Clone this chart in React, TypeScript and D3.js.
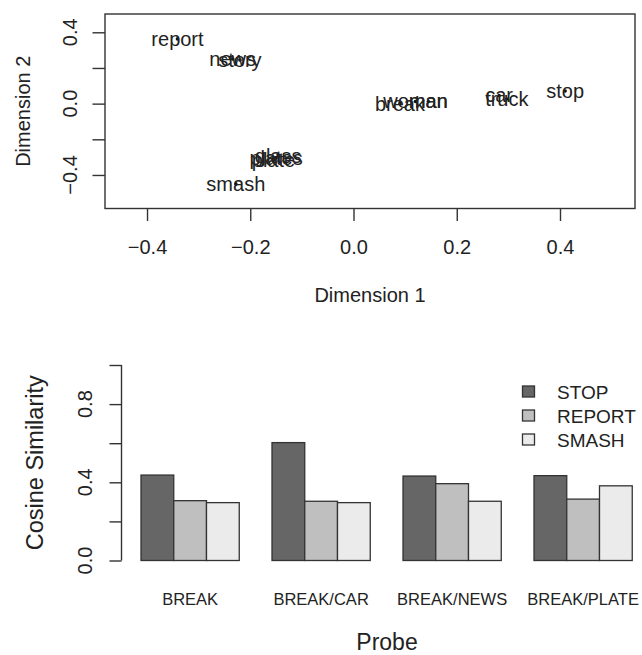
import { useEffect, useRef } from "react";
import * as d3 from "d3";

// MDS plot: words and their coordinates
const words = ["report", "news", "story", "smash", "plate", "plates", "glass", "break", "woman", "man", "car", "truck", "stop"];
const dim1 = [-0.341, -0.234, -0.22, -0.228, -0.155, -0.15, -0.146, 0.09, 0.12, 0.145, 0.282, 0.297, 0.41];
const dim2 = [0.363, 0.25, 0.245, -0.45, -0.315, -0.305, -0.295, 0.0, 0.012, 0.012, 0.046, 0.026, 0.071];
const dimTicks = [-0.4, -0.2, 0, 0.2, 0.4];
const dimYLabels = [-0.4, 0, 0.4];

// bar plot
const probes = ["BREAK", "BREAK/CAR", "BREAK/NEWS", "BREAK/PLATE"];
const seriesNames = ["STOP", "REPORT", "SMASH"];
const stopVals = [0.437, 0.603, 0.432, 0.434];
const reportVals = [0.306, 0.303, 0.393, 0.314];
const smashVals = [0.296, 0.296, 0.303, 0.382];
const simTicks = [0, 0.2, 0.4, 0.6, 0.8, 1.0];
const simLabels = [0, 0.4, 0.8];

const FONT = "'Liberation Sans', Arial, Helvetica, sans-serif";
const INK = "#222";
const LINE = "#333";
const fills = ["#666666", "#bfbfbf", "#ebebeb"];

const App = () => {
  const svgRef = useRef(null);

  useEffect(() => {
    const svg = d3.select(svgRef.current);
    svg.selectAll("*").remove();
    const fmt = d3.format(".1f");

    // ---------- top panel ----------
    const box = { left: 105, right: 635, top: 14, bottom: 208.5 };
    const x = d3.scaleLinear().domain([-0.4814, 0.5453]).range([box.left, box.right]);
    const y = d3.scaleLinear().domain([-0.588, 0.5026]).range([box.bottom, box.top]);

    const top = svg.append("g").attr("font-family", FONT).attr("fill", INK);

    top
      .append("rect")
      .attr("x", box.left)
      .attr("y", box.top)
      .attr("width", box.right - box.left)
      .attr("height", box.bottom - box.top)
      .attr("fill", "none")
      .attr("stroke", LINE)
      .attr("stroke-width", 1.4);

    // x axis
    const xa = top
      .append("g")
      .attr("transform", `translate(0,${box.bottom})`)
      .call(d3.axisBottom(x).tickValues(dimTicks).tickSize(12.5).tickPadding(19).tickFormat(fmt));
    xa.select(".domain").remove();
    xa.selectAll("line").attr("stroke", LINE).attr("stroke-width", 1.4);
    xa.selectAll("text").attr("font-size", 20).attr("fill", INK).attr("font-family", FONT);

    // y axis
    const ya = top
      .append("g")
      .attr("transform", `translate(${box.left},0)`)
      .call(d3.axisLeft(y).tickValues(dimTicks).tickSize(12.5).tickFormat(() => ""));
    ya.select(".domain").remove();
    ya.selectAll("line").attr("stroke", LINE).attr("stroke-width", 1.4);

    top
      .selectAll("text.ylab")
      .data(dimYLabels)
      .enter()
      .append("text")
      .attr("class", "ylab")
      .attr("transform", (d) => `translate(77,${y(d)}) rotate(-90)`)
      .attr("text-anchor", "middle")
      .attr("font-size", 20)
      .text((d) => fmt(d));

    // points + labels
    const pts = words.map((w, i) => ({ w, a: dim1[i], b: dim2[i] }));
    top
      .selectAll("circle")
      .data(pts)
      .enter()
      .append("circle")
      .attr("cx", (d) => x(d.a))
      .attr("cy", (d) => y(d.b))
      .attr("r", 1.8)
      .attr("fill", "#111");
    top
      .selectAll("text.word")
      .data(pts)
      .enter()
      .append("text")
      .attr("class", "word")
      .attr("x", (d) => x(d.a))
      .attr("y", (d) => y(d.b))
      .attr("dy", "0.35em")
      .attr("text-anchor", "middle")
      .attr("font-size", 20)
      .text((d) => d.w);

    top
      .append("text")
      .attr("x", (box.left + box.right) / 2)
      .attr("y", 302)
      .attr("text-anchor", "middle")
      .attr("font-size", 20)
      .text("Dimension 1");
    top
      .append("text")
      .attr("transform", `translate(29.5,${(box.top + box.bottom) / 2}) rotate(-90)`)
      .attr("text-anchor", "middle")
      .attr("font-size", 20)
      .text("Dimension 2");

    // ---------- bottom panel ----------
    const bot = svg.append("g").attr("font-family", FONT).attr("fill", INK);
    const axisX = 121.5;
    const ys = d3.scaleLinear().domain([0, 1]).range([560.5, 365]);
    const x0 = d3.scaleBand().domain(probes).range([141, 632.25]).paddingInner(0.25).paddingOuter(0);
    const x1 = d3.scaleBand().domain(seriesNames).range([0, x0.bandwidth()]).padding(0);
    const vals = [stopVals, reportVals, smashVals];

    const groups = bot
      .selectAll("g.grp")
      .data(probes)
      .enter()
      .append("g")
      .attr("class", "grp")
      .attr("transform", (d) => `translate(${x0(d)},0)`);

    groups
      .selectAll("rect")
      .data((p, i) => seriesNames.map((s, j) => ({ s, j, v: vals[j][i] })))
      .enter()
      .append("rect")
      .attr("x", (d) => x1(d.s))
      .attr("y", (d) => ys(d.v))
      .attr("width", x1.bandwidth())
      .attr("height", (d) => ys(0) - ys(d.v))
      .attr("fill", (d) => fills[d.j])
      .attr("stroke", LINE)
      .attr("stroke-width", 1.3);

    groups
      .append("text")
      .attr("x", x0.bandwidth() / 2)
      .attr("y", 605)
      .attr("text-anchor", "middle")
      .attr("font-size", 16.5)
      .text((d) => d);

    const yb = bot
      .append("g")
      .attr("transform", `translate(${axisX},0)`)
      .call(d3.axisLeft(ys).tickValues(simTicks).tickSize(12).tickSizeOuter(0).tickFormat(() => ""));
    yb.select(".domain").attr("stroke", LINE).attr("stroke-width", 1.4).attr("d", `M0,${ys(1)}V${ys(0)}`);
    yb.selectAll("line").attr("stroke", LINE).attr("stroke-width", 1.4);

    bot
      .selectAll("text.ylab")
      .data(simLabels)
      .enter()
      .append("text")
      .attr("class", "ylab")
      .attr("transform", (d) => `translate(92,${ys(d)}) rotate(-90)`)
      .attr("text-anchor", "middle")
      .attr("font-size", 20)
      .text((d) => fmt(d));

    bot
      .append("text")
      .attr("transform", `translate(43,${(ys(0) + ys(1)) / 2}) rotate(-90)`)
      .attr("text-anchor", "middle")
      .attr("font-size", 23.5)
      .text("Cosine Similarity");

    bot
      .append("text")
      .attr("x", 387)
      .attr("y", 650)
      .attr("text-anchor", "middle")
      .attr("font-size", 23)
      .text("Probe");

    // legend
    const leg = bot
      .selectAll("g.leg")
      .data(seriesNames)
      .enter()
      .append("g")
      .attr("class", "leg")
      .attr("transform", (d, i) => `translate(522.5,${386 + i * 24})`);
    leg
      .append("rect")
      .attr("width", 12)
      .attr("height", 11)
      .attr("fill", (d, i) => fills[i])
      .attr("stroke", LINE)
      .attr("stroke-width", 1.3);
    leg
      .append("text")
      .attr("x", 34.5)
      .attr("y", 12.5)
      .attr("font-size", 19)
      .text((d) => d);
  }, []);

  return (
    <div>
      <svg
        ref={svgRef}
        width={642}
        height={655}
        style={{ position: "absolute", left: 0, top: 0, background: "#fff" }}
      ></svg>
    </div>
  );
};

export default App;
